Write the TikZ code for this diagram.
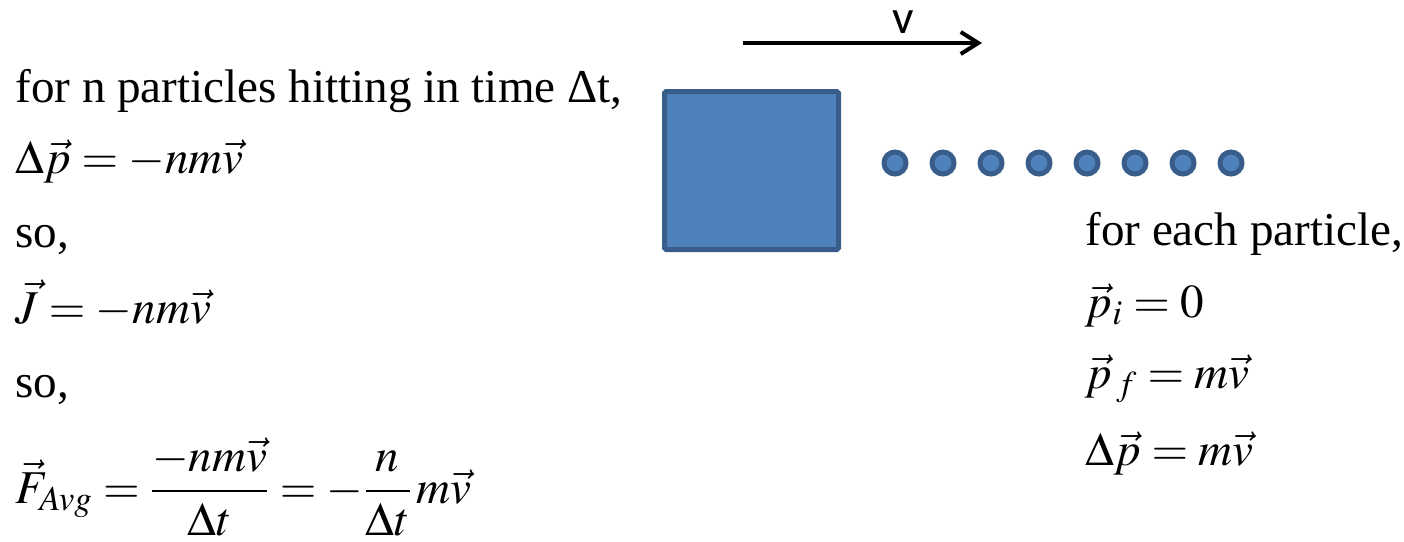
\documentclass[tikz,border=0pt]{standalone}
\usepackage{mathptmx}
\usepackage[no-math]{fontspec}
\setmainfont{Liberation Serif}
\newfontfamily\calfont{Carlito}
\usetikzlibrary{positioning,arrows.meta}
\definecolor{BoxBlue}{HTML}{4F81BD}
\definecolor{BoxEdge}{HTML}{385D8A}

\begin{document}
\begin{tikzpicture}[
    txt/.style={inner sep=0pt, anchor=base west,
                font=\fontsize{26.8}{33}\selectfont},
    blk/.style={draw=BoxEdge, fill=BoxBlue, line width=0.1cm,
                rounded corners=1pt, minimum width=3.48cm,
                minimum height=3.16cm, inner sep=0pt},
    ball/.style={circle, draw=BoxEdge, fill=BoxBlue, line width=0.1cm,
                 minimum size=0.44cm, inner sep=0pt},
    ar/.style={-{Straight Barb[length=3.5mm, width=4.4mm]}, line width=0.08cm},
    vlab/.style={font=\calfont\fontsize{27.1}{33}\selectfont,
                 inner sep=0pt, anchor=base},
  ]
  \useasboundingbox (0,0) rectangle (28.08,-10.82);

  % left column
  \node[txt] (hit) at (0.30,-2.04) {for n particles hitting in time Δt,};
  \node[txt, below=1.42cm of hit.base west, anchor=base west] (dp)
    {$\Delta\vec p = -nm\vec v$};
  \node[txt, below=1.48cm of dp.base west, anchor=base west] (so1) {so,};
  \node[txt, below=1.52cm of so1.base west, anchor=base west] (imp)
    {$\vec J = -nm\vec v$};
  \node[txt, below=1.48cm of imp.base west, anchor=base west] (so2) {so,};
  \node[txt, below=2.12cm of so2.base west, anchor=base west] (favg)
    {$\displaystyle \vec F_{Avg} = \frac{-nm\vec v}{\Delta t}
      = -\frac{n}{\Delta t}\,m\vec v$};

  % block, balls and velocity
  \node[blk] (block) at (15.03,-3.41) {};
  \foreach \k in {0,...,7}
    \node[ball] (b\k) at ({17.90+0.96*\k},-3.26) {};
  \coordinate (vtail) at (14.86,-0.86);
  \coordinate (vhead) at (19.64,-0.86);
  \draw[ar] (vtail) -- (vhead);
  \node[vlab] (vname) at (18.06,-0.66) {v};

  % right column
  \node[txt] (each) at (21.70,-4.90) {for each particle,};
  \node[txt, below=1.44cm of each.base west, anchor=base west] (pi)
    {$\vec p_i = 0$};
  \node[txt, below=1.42cm of pi.base west, anchor=base west] (pf)
    {$\vec p_{\,f} = m\vec v$};
  \node[txt, below=1.54cm of pf.base west, anchor=base west] (dpr)
    {$\Delta\vec p = m\vec v$};
\end{tikzpicture}
\end{document}
